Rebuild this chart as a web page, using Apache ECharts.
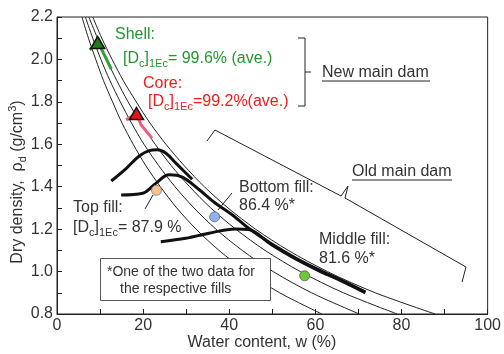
<!DOCTYPE html>
<html>
<head>
<meta charset="utf-8">
<script src="https://cdn.jsdelivr.net/npm/echarts@6/dist/echarts.min.js"></script>
<style>
  html, body { margin: 0; padding: 0; background: #fff; }
  #chart { width: 504px; height: 354px; }
</style>
</head>
<body>
<div id="chart"></div>
<script>
// Axis ticks
const xTicks = [0, 20, 40, 60, 80, 100];
const yTicks = [0.8, 1.0, 1.2, 1.4, 1.6, 1.8, 2.0, 2.2];

// Degree-of-saturation curves: dry density levels and water content on each curve
const satDensity = [2.2, 2.1, 2.0, 1.9, 1.8, 1.7, 1.6, 1.5, 1.4, 1.3, 1.2, 1.1, 1.0, 0.9, 0.8];
const satW100 = [8.3, 10.4, 12.8, 15.4, 18.4, 21.6, 25.3, 29.5, 34.2, 39.7, 46.1, 53.7, 62.8, 73.9, 87.8];
const satW90  = [7.4, 9.4, 11.5, 13.9, 16.5, 19.5, 22.8, 26.5, 30.8, 35.7, 41.5, 48.3, 56.5, 66.5, 79.0];
const satW80  = [6.6, 8.3, 10.2, 12.3, 14.7, 17.3, 20.2, 23.6, 27.4, 31.8, 36.9, 43.0, 50.2, 59.1, 70.2];
const satW70  = [5.8, 7.3, 9.0, 10.8, 12.9, 15.1, 17.7, 20.6, 24.0, 27.8, 32.3, 37.6, 44.0, 51.7, 61.5];

// Compaction curves of the old main dam fills (w %, dry density)
const topFillW   = [12.6, 16.1, 19.1, 21.4, 23.3, 25.3, 27.6, 31.4];
const topFillRho = [1.427, 1.487, 1.545, 1.570, 1.574, 1.558, 1.511, 1.435];
const bottomFillW   = [14.9, 19.9, 23.0, 26.0, 29.1, 32.9, 36.8, 40.6, 44.5, 49.8, 55.2, 60.6, 66.0, 71.6];
const bottomFillRho = [1.361, 1.369, 1.417, 1.456, 1.445, 1.388, 1.322, 1.269, 1.204, 1.131, 1.066, 1.010, 0.960, 0.904];
const middleFillW   = [24.1, 29.9, 35.3, 41.4, 44.5, 49.8, 55.2, 60.6, 66.0, 71.6];
const middleFillRho = [1.141, 1.157, 1.181, 1.201, 1.198, 1.127, 1.062, 1.006, 0.956, 0.900];

// Field data of the new main dam (curve segment through the average point)
const shellW   = [7.6, 9.45, 10.3, 12.6];
const shellRho = [2.045, 2.080, 2.050, 1.955];
const coreW    = [16.05, 18.45, 19.5, 22.05];
const coreRho  = [1.715, 1.745, 1.692, 1.629];
const shellPeak = [9.45, 2.080];
const corePeak  = [18.45, 1.745];

// Sample points of the old main dam fills
const topFillPoint    = [23.1, 1.383];
const bottomFillPoint = [36.6, 1.258];
const middleFillPoint = [57.5, 0.980];

const zip = (xs, ys) => xs.map((x, i) => [x, ys[i]]);
const satCurve = ws => zip(ws, satDensity);

const FONT = 'Liberation Sans, Arial, sans-serif';
const TXT = '#333';
const GREEN = '#22992e';
const RED = '#ee1c1c';
const FS = 16;

function thinLine(ws) {
  return { type: 'line', data: satCurve(ws), showSymbol: false, smooth: 0.3, silent: true, z: 2,
           lineStyle: { color: '#222', width: 1 } };
}
function thickLine(xs, ys) {
  return { type: 'line', data: zip(xs, ys), showSymbol: false, smooth: 0.35, silent: true, z: 3,
           lineStyle: { color: '#111', width: 3 } };
}
function segLine(xs, ys, color) {
  return { type: 'line', data: zip(xs, ys), showSymbol: false, smooth: false, silent: true, z: 4,
           lineStyle: { color: color, width: 3 } };
}
function marker(pt, symbol, size, color, border, bw) {
  return { type: 'scatter', data: [pt], symbol: symbol, symbolSize: size, z: 6, silent: true,
           itemStyle: { color: color, borderColor: border, borderWidth: bw, opacity: 1 } };
}

const subRich = {
  n: { fontSize: FS, lineHeight: 21, fontFamily: FONT },
  s: { fontSize: 11, verticalAlign: 'bottom', fontFamily: FONT },
  p: { fontSize: 11, verticalAlign: 'top', fontFamily: FONT }
};
function richFor(color) {
  const r = {};
  for (const k in subRich) r[k] = Object.assign({ fill: color }, subRich[k]);
  return r;
}
function label(x, y, text, color, size, align) {
  return { type: 'text', x: x, y: y, z: 20,
    style: { text: text, fill: color, font: (size || FS) + 'px ' + FONT, verticalAlign: 'middle', align: align || 'left' } };
}
function richLabel(x, y, text, color) {
  return { type: 'text', x: x, y: y, z: 20,
    style: { text: text, rich: richFor(color), fill: color, verticalAlign: 'middle', align: 'left', font: FS + 'px ' + FONT } };
}
function poly(points, color, width) {
  return { type: 'polyline', z: 15, shape: { points: points },
           style: { stroke: color || '#222', lineWidth: width || 1, fill: null } };
}

const chart = echarts.init(document.getElementById('chart'), null, { renderer: 'canvas' });

chart.setOption({
  animation: false,
  backgroundColor: '#fff',
  grid: { left: 57, right: 13, top: 17, bottom: 40, show: true, borderColor: '#222', borderWidth: 1, backgroundColor: 'transparent' },
  xAxis: {
    type: 'value', min: xTicks[0], max: xTicks[xTicks.length - 1], interval: 20,
    axisLine: { show: true, onZero: false, lineStyle: { color: '#222', width: 1 } },
    axisTick: { show: true, inside: true, length: 5, lineStyle: { color: '#222' } },
    minorTick: { show: true, splitNumber: 2, length: 5, lineStyle: { color: '#222' } },
    splitLine: { show: false },
    axisLabel: { color: TXT, fontSize: FS, fontFamily: FONT, margin: 4 }
  },
  yAxis: {
    type: 'value', min: yTicks[0], max: yTicks[yTicks.length - 1], interval: 0.2,
    axisLine: { show: true, onZero: false, lineStyle: { color: '#222', width: 1 } },
    axisTick: { show: true, inside: true, length: 5, lineStyle: { color: '#222' } },
    minorTick: { show: true, splitNumber: 2, length: 5, lineStyle: { color: '#222' } },
    splitLine: { show: false },
    axisLabel: { color: TXT, fontSize: FS, fontFamily: FONT, margin: 4, formatter: v => v.toFixed(1) }
  },
  series: [
    thinLine(satW70), thinLine(satW80), thinLine(satW90), thinLine(satW100),
    thickLine(topFillW, topFillRho),
    thickLine(bottomFillW, bottomFillRho),
    thickLine(middleFillW, middleFillRho),
    segLine(shellW, shellRho, '#2e9e3e'),
    segLine(coreW, coreRho, '#f25c7a'),
    marker(shellPeak, 'triangle', [14, 12], '#1d7a1d', '#111', 1.5),
    marker(corePeak, 'triangle', [14, 12], '#e8141c', '#111', 1.5),
    marker(topFillPoint, 'circle', 10, '#f8c28e', '#777', 0.8),
    marker(bottomFillPoint, 'circle', 10, '#8fb2ee', '#666', 0.8),
    marker(middleFillPoint, 'circle', 10, '#6cc83c', '#555', 0.8)
  ],
  graphic: [
    // axis titles
    label(262, 343, 'Water content, w (%)', TXT, FS, 'center'),
    { type: 'text', x: 18, y: 182, rotation: Math.PI / 2, z: 20,
      style: { text: '{n|Dry density,  ρ}{s|d}{n| (g/cm}{p|3}{n|)}', rich: richFor(TXT), align: 'center', verticalAlign: 'middle', font: FS + 'px ' + FONT } },

    // new main dam
    label(115, 35, 'Shell:', GREEN),
    richLabel(123, 59, '{n|[D}{s|c}{n|]}{s|1Ec}{n|= 99.6% (ave.)}', GREEN),
    label(143, 84, 'Core:', RED),
    richLabel(148, 102, '{n|[D}{s|c}{n|]}{s|1Ec}{n|=99.2%(ave.)}', RED),
    poly([[298, 38], [305, 38], [305, 106], [298, 106]]),
    poly([[305, 72], [311, 72]]),
    label(322, 73, 'New main dam', TXT),
    poly([[322, 81], [430, 81]]),

    // old main dam
    poly([[207, 141], [215, 130], [341, 196], [348, 186]]),
    poly([[348, 186], [345, 198], [466, 267], [462, 282]]),
    label(352, 172, 'Old main dam', TXT),
    poly([[352, 180], [452, 180]]),

    // fills
    label(239, 188, 'Bottom fill:', TXT),
    label(239, 206, '86.4 %*', TXT),
    poly([[218, 210], [232, 193]]),
    label(73, 208, 'Top fill:', TXT),
    richLabel(73, 228, '{n|[D}{s|c}{n|]}{s|1Ec}{n|= 87.9 %}', TXT),
    poly([[153, 195], [145, 209]]),
    label(319, 240, 'Middle fill:', TXT),
    label(319, 259, '81.6 %*', TXT),

    // note box
    { type: 'rect', z: 18, shape: { x: 100.5, y: 258.5, width: 170, height: 42 },
      style: { fill: '#fff', stroke: '#555', lineWidth: 1 } },
    label(107, 272, '*One of the two data for', TXT, 14),
    label(120, 289, 'the respective fills', TXT, 14)
  ]
});
</script>
</body>
</html>
